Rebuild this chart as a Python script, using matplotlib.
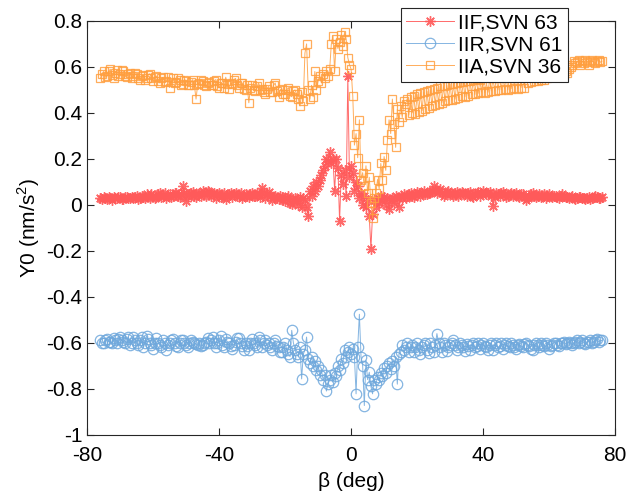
import matplotlib
matplotlib.use("Agg")
import matplotlib.pyplot as plt

# beta angle samples (deg), shared by all three satellites
beta = [-76, -75.5, -75, -74.5, -74, -73.5, -73, -72.5, -72, -71.5,
        -71, -70.5, -70, -69.5, -69, -68.5, -68, -67.5, -67, -66.5,
        -66, -65.5, -65, -64.5, -64, -63.5, -63, -62.5, -62, -61.5,
        -61, -60.5, -60, -59.5, -59, -58.5, -58, -57.5, -57, -56.5,
        -56, -55.5, -55, -54.5, -54, -53.5, -53, -52.5, -52, -51.5,
        -51, -50.5, -50, -49.5, -49, -48.5, -48, -47.5, -47, -46.5,
        -46, -45.5, -45, -44.5, -44, -43.5, -43, -42.5, -42, -41.5,
        -41, -40.5, -40, -39.5, -39, -38.5, -38, -37.5, -37, -36.5,
        -36, -35.5, -35, -34.5, -34, -33.5, -33, -32.5, -32, -31.5,
        -31, -30.5, -30, -29.5, -29, -28.5, -28, -27.5, -27, -26.5,
        -26, -25.5, -25, -24.5, -24, -23.5, -23, -22.5, -22, -21.5,
        -21, -20.5, -20, -19.5, -19, -18.5, -18, -17.5, -17, -16.5,
        -16, -15.5, -15, -14.5, -14, -13.5, -13, -12.5, -12, -11.5,
        -11, -10.5, -10, -9.5, -9, -8.5, -8, -7.5, -7, -6.5,
        -6, -5.5, -5, -4.5, -4, -3.5, -3, -2.5, -2, -1.5,
        -1, -0.5, 0, 0.5, 1, 1.5, 2, 2.5, 3, 3.5,
        4, 4.5, 5, 5.5, 6, 6.5, 7, 7.5, 8, 8.5,
        9, 9.5, 10, 10.5, 11, 11.5, 12, 12.5, 13, 13.5,
        14, 14.5, 15, 15.5, 16,
        16.5, 17, 17.5, 18, 18.5, 19, 19.5, 20, 20.5, 21,
        21.5, 22, 22.5, 23, 23.5, 24, 24.5, 25, 25.5, 26,
        26.5, 27, 27.5, 28, 28.5, 29, 29.5, 30, 30.5, 31,
        31.5, 32, 32.5, 33, 33.5, 34, 34.5, 35, 35.5, 36,
        36.5, 37, 37.5, 38, 38.5, 39, 39.5, 40, 40.5, 41,
        41.5, 42, 42.5, 43, 43.5, 44, 44.5, 45, 45.5, 46,
        46.5, 47, 47.5, 48, 48.5, 49, 49.5, 50, 50.5, 51,
        51.5, 52, 52.5, 53, 53.5, 54, 54.5, 55, 55.5, 56,
        56.5, 57, 57.5, 58, 58.5, 59, 59.5, 60, 60.5, 61,
        61.5, 62, 62.5, 63, 63.5, 64, 64.5, 65, 65.5, 66,
        66.5, 67, 67.5, 68, 68.5, 69, 69.5, 70, 70.5, 71,
        71.5, 72, 72.5, 73, 73.5, 74, 74.5, 75, 75.5, 76]

# IIF, SVN 63
y_iif = [0.03, 0.025, 0.035, 0.03, 0.025, 0.035, 0.03, 0.02, 0.035, 0.03,
         0.028, 0.035, 0.032, 0.025, 0.025, 0.035, 0.035, 0.028, 0.03, 0.035,
         0.028, 0.033, 0.04, 0.025, 0.03, 0.04, 0.035, 0.028, 0.045, 0.04,
         0.03, 0.045, 0.04, 0.03, 0.035, 0.045, 0.05, 0.035, 0.04, 0.05,
         0.03, 0.04, 0.045, 0.035, 0.04, 0.05, 0.05, 0.04, 0.035, 0.045,
         0.08, 0.05, 0.015, 0.04, 0.045, 0.05, 0.055, 0.04, 0.035, 0.045,
         0.05, 0.04, 0.06, 0.05, 0.04, 0.06, 0.055, 0.04, 0.045, 0.05,
         0.03, 0.045, 0.05, 0.035, 0.04, 0.05, 0.025, 0.04, 0.045, 0.05,
         0.035, 0.045, 0.05, 0.04, 0.04, 0.05, 0.03, 0.04, 0.045, 0.04,
         0.035, 0.045, 0.05, 0.04, 0.04, 0.05, 0.045, 0.035, 0.075, 0.05,
         0.03, 0.045, 0.055, 0.04, 0.02, 0.035, 0.04, 0.03, 0.025, 0.04,
         0.035, 0.02, 0.015, 0.03, 0.04, 0.01, 0.005, 0.025, 0.03, 0.02,
         0.0, 0.035, -0.01, 0.03, 0.02, -0.01, -0.05, 0.06, 0.04, 0.08,
         0.06, 0.1, 0.08, 0.11, 0.13, 0.15, 0.17, 0.2, 0.19, 0.23,
         0.18, 0.2, 0.06, 0.2, 0.16, -0.07, 0.13, 0.09, 0.15, 0.04,
         0.56, 0.12, 0.17, 0.14, 0.06, 0.1, 0.08, 0.03, 0.05, 0.0,
         0.04, -0.01, 0.02, -0.05, -0.19, -0.04, 0.02, -0.01, 0.03, 0.01,
         0.04, 0.02, 0.035, 0.0, 0.03, -0.02, 0.02, 0.03, 0.01, 0.04,
         0.03, -0.01, 0.04, 0.03, 0.045,
         0.03, 0.04, 0.045, 0.05, 0.04, 0.035, 0.045, 0.055, 0.05, 0.04,
         0.05, 0.06, 0.045, 0.045, 0.05, 0.055, 0.06, 0.08, 0.065, 0.05,
         0.06, 0.07, 0.05, 0.04, 0.045, 0.055, 0.06, 0.05, 0.045, 0.04,
         0.05, 0.055, 0.04, 0.045, 0.055, 0.05, 0.045, 0.04, 0.05, 0.055,
         0.04, 0.035, 0.045, 0.05, 0.055, 0.04, 0.05, 0.06, 0.05, 0.045,
         0.05, 0.055, 0.04, -0.005, 0.035, 0.05, 0.045, 0.04, 0.05, 0.055,
         0.045, 0.035, 0.04, 0.045, 0.05, 0.04, 0.045, 0.05, 0.04, 0.035,
         0.045, 0.045, 0.035, 0.02, 0.03, 0.04, 0.045, 0.05, 0.04, 0.035,
         0.04, 0.045, 0.035, 0.04, 0.045, 0.03, 0.04, 0.045, 0.04, 0.035,
         0.04, 0.04, 0.035, 0.03, 0.04, 0.045, 0.04, 0.035, 0.035, 0.03,
         0.035, 0.04, 0.03, 0.025, 0.03, 0.035, 0.035, 0.03, 0.03, 0.025,
         0.03, 0.035, 0.025, 0.03, 0.035, 0.04, 0.035, 0.03, 0.03, 0.035]

# IIR, SVN 61
y_iir = [-0.59, -0.6, -0.6, -0.59, -0.585, -0.595, -0.595, -0.6, -0.58, -0.59,
         -0.6, -0.585, -0.575, -0.59, -0.595, -0.6, -0.585, -0.575, -0.61, -0.6,
         -0.575, -0.59, -0.6, -0.61, -0.59, -0.575, -0.62, -0.6, -0.57, -0.585,
         -0.6, -0.61, -0.625, -0.6, -0.58, -0.6, -0.61, -0.62, -0.59, -0.6,
         -0.63, -0.61, -0.6, -0.59, -0.585, -0.6, -0.615, -0.62, -0.6, -0.59,
         -0.59, -0.6, -0.61, -0.62, -0.6, -0.59, -0.595, -0.6, -0.605, -0.61,
         -0.6, -0.615, -0.61, -0.6, -0.595, -0.58, -0.6, -0.59, -0.575, -0.6,
         -0.62, -0.6, -0.59, -0.57, -0.61, -0.62, -0.585, -0.595, -0.6, -0.615,
         -0.625, -0.61, -0.595, -0.58, -0.58, -0.6, -0.615, -0.63, -0.6, -0.615,
         -0.63, -0.6, -0.585, -0.6, -0.61, -0.62, -0.575, -0.59, -0.62, -0.6,
         -0.59, -0.61, -0.6, -0.62, -0.63, -0.6, -0.59, -0.615, -0.62, -0.64,
         -0.64, -0.62, -0.6, -0.63, -0.65, -0.66, -0.546, -0.6, -0.63, -0.65,
         -0.66, -0.62, -0.757, -0.65, -0.63, -0.575, -0.67, -0.69, -0.66, -0.7,
         -0.68, -0.72, -0.7, -0.74, -0.72, -0.76, -0.74, -0.81, -0.78, -0.76,
         -0.74, -0.77, -0.73, -0.745, -0.7, -0.72, -0.67, -0.69, -0.63, -0.66,
         -0.64, -0.62, -0.65, -0.625, -0.66, -0.822, -0.62, -0.476, -0.66, -0.7,
         -0.873, -0.677, -0.76, -0.728, -0.79, -0.822, -0.76, -0.78, -0.75, -0.764,
         -0.73, -0.745, -0.71, -0.73, -0.7, -0.69, -0.715, -0.68, -0.7, -0.66,
         -0.78, -0.65, -0.64, -0.611, -0.63,
         -0.62, -0.6, -0.64, -0.62, -0.61, -0.64, -0.62, -0.6, -0.63, -0.65,
         -0.62, -0.61, -0.6, -0.63, -0.645, -0.6, -0.62, -0.64, -0.61, -0.56,
         -0.6, -0.62, -0.64, -0.6, -0.61, -0.635, -0.62, -0.61, -0.6, -0.59,
         -0.61, -0.63, -0.62, -0.6, -0.61, -0.62, -0.635, -0.605, -0.615, -0.63,
         -0.61, -0.6, -0.62, -0.615, -0.6, -0.625, -0.61, -0.6, -0.615, -0.62,
         -0.63, -0.61, -0.6, -0.63, -0.61, -0.6, -0.62, -0.615, -0.6, -0.625,
         -0.61, -0.6, -0.615, -0.62, -0.6, -0.61, -0.62, -0.625, -0.61, -0.605,
         -0.615, -0.62, -0.605, -0.6, -0.61, -0.615, -0.625, -0.63, -0.61, -0.6,
         -0.61, -0.62, -0.6, -0.61, -0.615, -0.6, -0.61, -0.625, -0.615, -0.61,
         -0.6, -0.6, -0.61, -0.615, -0.6, -0.6, -0.595, -0.605, -0.6, -0.595,
         -0.6, -0.61, -0.6, -0.595, -0.59, -0.6, -0.595, -0.59, -0.6, -0.605,
         -0.595, -0.595, -0.59, -0.6, -0.595, -0.59, -0.585, -0.595, -0.59, -0.59]

# IIA, SVN 36
y_iia = [0.55, 0.57, 0.58, 0.555, 0.56, 0.58, 0.59, 0.565, 0.55, 0.575,
         0.585, 0.56, 0.57, 0.585, 0.58, 0.56, 0.555, 0.57, 0.575, 0.55,
         0.56, 0.575, 0.57, 0.55, 0.545, 0.56, 0.565, 0.545, 0.55, 0.565,
         0.57, 0.55, 0.54, 0.555, 0.56, 0.54, 0.53, 0.55, 0.555, 0.535,
         0.54, 0.555, 0.51, 0.535, 0.55, 0.53, 0.535, 0.55, 0.545, 0.52,
         0.525, 0.545, 0.54, 0.52, 0.52, 0.535, 0.545, 0.52, 0.46, 0.525,
         0.53, 0.545, 0.54, 0.52, 0.515, 0.53, 0.535, 0.52, 0.52, 0.54,
         0.545, 0.515, 0.51, 0.53, 0.53, 0.51, 0.555, 0.525, 0.505, 0.53,
         0.525, 0.545, 0.55, 0.52, 0.51, 0.53, 0.53, 0.505, 0.5, 0.52,
         0.444, 0.51, 0.52, 0.5, 0.495, 0.515, 0.53, 0.5, 0.505, 0.49,
         0.48, 0.505, 0.515, 0.49, 0.49, 0.52, 0.53, 0.495, 0.47, 0.5,
         0.505, 0.48, 0.48, 0.5, 0.51, 0.475, 0.47, 0.495, 0.5, 0.48,
         0.46, 0.43, 0.49, 0.45, 0.66, 0.7, 0.5, 0.46, 0.52, 0.47,
         0.58, 0.5, 0.54, 0.56, 0.53, 0.57, 0.55, 0.58, 0.56, 0.59,
         0.7, 0.735, 0.58, 0.72, 0.68, 0.71, 0.74, 0.69, 0.75, 0.72,
         0.64, 0.61, 0.59, 0.473, 0.26, 0.31, 0.205, 0.37, 0.11, 0.14,
         0.08, 0.17, 0.05, 0.12, 0.007, -0.058, 0.03, 0.05, 0.11, 0.07,
         0.18, 0.11, 0.21, 0.15, 0.28, 0.37, 0.31, 0.46, 0.35, 0.25,
         0.415, 0.36, 0.43, 0.38, 0.45,
         0.44, 0.46, 0.39, 0.47, 0.4, 0.475, 0.395, 0.48, 0.405, 0.488,
         0.41, 0.49, 0.415, 0.495, 0.42, 0.5, 0.43, 0.505, 0.435, 0.51,
         0.44, 0.517, 0.445, 0.515, 0.45, 0.52, 0.455, 0.525, 0.455, 0.525,
         0.46, 0.53, 0.465, 0.535, 0.473, 0.535, 0.47, 0.54, 0.475, 0.54,
         0.48, 0.545, 0.48, 0.546, 0.485, 0.545, 0.49, 0.55, 0.488, 0.53,
         0.49, 0.55, 0.495, 0.55, 0.495, 0.555, 0.5, 0.555, 0.5, 0.56,
         0.505, 0.56, 0.5, 0.56, 0.505, 0.565, 0.51, 0.565, 0.505, 0.565,
         0.51, 0.57, 0.51, 0.57, 0.53, 0.57, 0.535, 0.575, 0.54, 0.575,
         0.54, 0.575, 0.545, 0.58, 0.545, 0.58, 0.55, 0.58, 0.555, 0.585,
         0.56, 0.585, 0.56, 0.585, 0.565, 0.59, 0.57, 0.58, 0.575, 0.59,
         0.6, 0.61, 0.625, 0.615, 0.62, 0.63, 0.61, 0.625, 0.615, 0.63,
         0.62, 0.61, 0.625, 0.63, 0.62, 0.615, 0.625, 0.63, 0.62, 0.625]

y_ticks = [-1, -0.8, -0.6, -0.4, -0.2, 0, 0.2, 0.4, 0.6, 0.8]
y_labels = ['-1', '-0.8', '-0.6', '-0.4', '-0.2', '0', '0.2', '0.4', '0.6', '0.8']
x_ticks = [-80, -40, 0, 40, 80]
x_labels = ['-80', '-40', '0', '40', '80']


def main():
    plt.rcParams['font.family'] = ['Liberation Sans', 'DejaVu Sans']
    plt.rcParams['mathtext.fontset'] = 'custom'
    plt.rcParams['mathtext.rm'] = 'Liberation Sans'
    plt.rcParams['axes.unicode_minus'] = False

    fig = plt.figure(figsize=(6.27, 4.98), dpi=100)
    ax = fig.add_axes([0.139, 0.127, 0.842, 0.831])

    red = '#ff5a5a'
    blue = '#6fa8dc'
    orange = '#ff9f3f'

    ax.plot(beta, y_iif, '-', marker=(8, 2, 0), color=red, lw=0.7, ms=7.5,
            mew=1.0, alpha=0.9, label='IIF,SVN 63')
    ax.plot(beta, y_iir, '-o', color=blue, lw=0.7, ms=7.5, mew=0.9,
            mfc='none', alpha=0.85, label='IIR,SVN 61')
    ax.plot(beta, y_iia, '-s', color=orange, lw=0.7, ms=6.3, mew=0.9,
            mfc='none', alpha=0.85, label='IIA,SVN 36')

    ax.set_xlim(-80, 80)
    ax.set_ylim(-1, 0.8)
    ax.set_xticks(x_ticks)
    ax.set_xticklabels(x_labels)
    ax.set_yticks(y_ticks)
    ax.set_yticklabels(y_labels)
    ax.tick_params(direction='in', length=5, width=0.8, labelsize=15,
                   top=True, right=True, colors='#262626', labelcolor='black')
    ax.tick_params(axis='x', pad=8)
    for s in ax.spines.values():
        s.set_color('#262626')
        s.set_linewidth(0.8)

    ax.set_xlabel('β (deg)', fontsize=15, labelpad=5)
    ax.set_ylabel('Y0 (nm/s$^2$)', fontsize=15, labelpad=3)

    leg = fig.legend(loc='upper left', bbox_to_anchor=(0.6396, 0.984),
                     fontsize=15, frameon=True, fancybox=False,
                     edgecolor='#262626', framealpha=1, borderpad=0.25,
                     labelspacing=0.15, handlelength=2.3, handletextpad=0.2,
                     borderaxespad=0)
    leg.get_frame().set_linewidth(0.8)

    plt.savefig('out.png', dpi=100)


if __name__ == "__main__":
    main()
